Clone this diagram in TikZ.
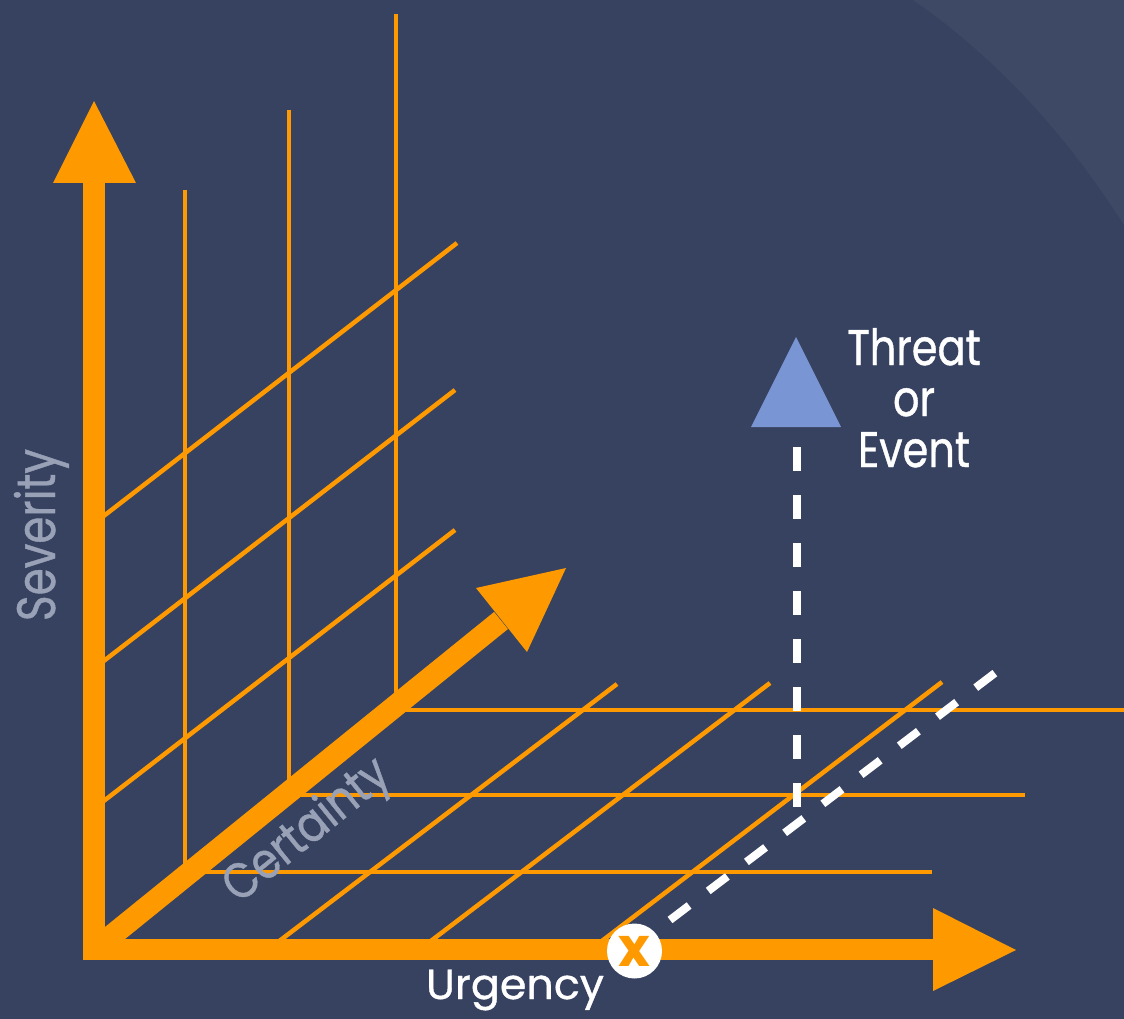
\documentclass[tikz,border=0pt]{standalone}
\usepackage{fontspec}
\setmainfont{Poppins}
\newfontfamily\medf[FakeBold=0.9]{Poppins}
\definecolor{bgdark}{HTML}{364260}
\definecolor{bglight}{HTML}{3E4965}
\definecolor{orng}{HTML}{FF9900}
\definecolor{tri}{HTML}{7A95D3}
\definecolor{lbl}{HTML}{98A1B6}
\tikzset{
  gridline/.style={draw=orng, line width=4.5pt},
  axisbar/.style={draw=orng, line width=22pt},
  headfill/.style={fill=orng},
  wdash/.style={draw=white, line width=8pt, dash pattern=on 24pt off 24pt},
  bigtxt/.style={text=white, inner sep=0pt, xscale=0.83, font=\medf\fontsize{50}{51}\selectfont},
  axtxt/.style={text=lbl, inner sep=0pt},
}
\begin{document}
\begin{tikzpicture}[x=1pt,y=-1pt]
\useasboundingbox (0,0) rectangle (1124,1019);
\fill[bgdark] (0,0) rectangle (1124,1019);
\fill[bglight] (913,0) .. controls (1000,60) and (1070,140) .. (1124,225) -- (1124,0) -- cycle;

% key points
\coordinate (O) at (94,950);
\coordinate (vtop) at (94,183);
\coordinate (htip) at (933,949.5);
\coordinate (dend) at (501,620.5);

% back wall verticals
\draw[gridline] (185,190) -- (185,877);
\draw[gridline] (289,110) -- (289,793);
\draw[gridline] (396,14) -- (396,707);
% back wall diagonals
\draw[gridline] (94,523.5) -- (457,243);
\draw[gridline] (94,668.5) -- (455,390);
\draw[gridline] (94,808.5) -- (455,530);
% floor horizontals
\draw[gridline] (190,872) -- (932,872);
\draw[gridline] (286,795) -- (1025,795);
\draw[gridline] (391,710) -- (1124,710);
% floor diagonals
\draw[gridline] (267.5,950) -- (617,684);
\draw[gridline] (419,950) -- (770,683);
\draw[gridline] (590,950) -- (942,682);

% axes
\draw[axisbar] (94,960) -- (vtop);
\fill[headfill] (53,183) -- (94,101) -- (136,183) -- cycle;
\draw[axisbar, line width=21pt] (83,949.5) -- (htip);
\fill[headfill] (933,908) -- (1016,950) -- (933,991) -- cycle;
\draw[axisbar] (O) -- (dend);
\fill[headfill] (476,588) -- (566,568) -- (527,652) -- cycle;

% dashed projection lines
\coordinate (dv1) at (797,447);
\coordinate (dv2) at (797,807);
\draw[wdash] (dv1) -- (dv2);
\coordinate (dd1) at (670,920);
\coordinate (dd2) at (995,673);
\draw[wdash] (dd1) -- (dd2);

% threat triangle
\fill[tri] (796,337) -- (841,427) -- (751,427) -- cycle;
\node[bigtxt, anchor=base] (t1) at (914,365) {Threat};
\node[bigtxt, anchor=base] (t2) at (914,416) {or};
\node[bigtxt, anchor=base] (t3) at (914,467) {Event};

% axis labels
\node[axtxt, font=\medf\fontsize{54}{54}\selectfont, rotate=90, xscale=0.81, anchor=base] (sev) at (55,535) {Severity};
\node[axtxt, font=\medf\fontsize{50}{50}\selectfont, rotate=39, xscale=0.86, anchor=center] (cer) at (308,832) {Certainty};
\node[text=white, inner sep=0pt, font=\medf\fontsize{42}{42}\selectfont, xscale=1.02, anchor=base] (urg) at (515,999) {Urgency};

% x marker
\node[circle, fill=white, minimum size=55pt, inner sep=0pt] (xm) at (634.5,951) {};
\node[text=orng, inner sep=0pt, font=\bfseries\fontsize{54}{54}\selectfont] (xl) at (xm) {x};
\end{tikzpicture}
\end{document}
